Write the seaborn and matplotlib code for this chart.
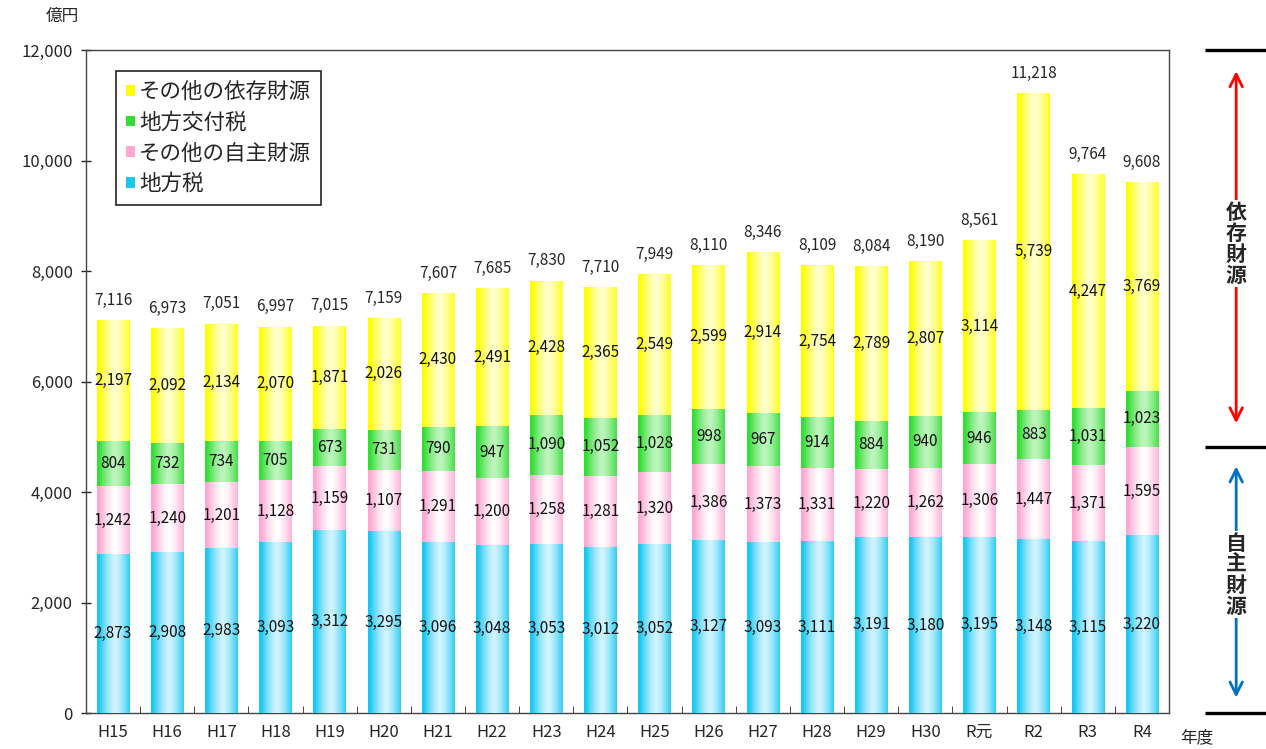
import matplotlib
matplotlib.use("Agg")
import matplotlib.pyplot as plt
import matplotlib.transforms as mtransforms
from matplotlib.patches import Patch
from matplotlib.ticker import FuncFormatter, MultipleLocator
import seaborn as sns
import pandas as pd
import numpy as np

# data (億円)
years = ['H15', 'H16', 'H17', 'H18', 'H19', 'H20', 'H21', 'H22', 'H23', 'H24',
         'H25', 'H26', 'H27', 'H28', 'H29', 'H30', 'R元', 'R2', 'R3', 'R4']
chihouzei = [2873, 2908, 2983, 3093, 3312, 3295, 3096, 3048, 3053, 3012,
             3052, 3127, 3093, 3111, 3191, 3180, 3195, 3148, 3115, 3220]
sonota_jishu = [1242, 1240, 1201, 1128, 1159, 1107, 1291, 1200, 1258, 1281,
                1320, 1386, 1373, 1331, 1220, 1262, 1306, 1447, 1371, 1595]
koufuzei = [804, 732, 734, 705, 673, 731, 790, 947, 1090, 1052,
            1028, 998, 967, 914, 884, 940, 946, 883, 1031, 1023]
sonota_izon = [2197, 2092, 2134, 2070, 1871, 2026, 2430, 2491, 2428, 2365,
               2549, 2599, 2914, 2754, 2789, 2807, 3114, 5739, 4247, 3769]
totals = [7116, 6973, 7051, 6997, 7015, 7159, 7607, 7685, 7830, 7710,
          7949, 8110, 8346, 8109, 8084, 8190, 8561, 11218, 9764, 9608]

series_names = ['地方税', 'その他の自主財源', '地方交付税', 'その他の依存財源']
series_vals = [chihouzei, sonota_jishu, koufuzei, sonota_izon]
# edge colour, centre (highlight) colour for the gradient bars
edge_cols = ['#19c8f0', '#ffa6d2', '#33dd33', '#ffff00']
mid_cols = ['#d2f4ff', '#ffffff', '#bff5bf', '#ffffd0']

df = pd.DataFrame({'年度': years})
for name, vals in zip(series_names, series_vals):
    df[name] = vals
cum = df[series_names].cumsum(axis=1)

sns.set_style("white")
plt.rcParams['font.family'] = ['Noto Sans CJK JP', 'DejaVu Sans']

fig = plt.figure(figsize=(12.66, 7.49), dpi=100)
ax = fig.add_axes([0.0679, 0.048, 0.8555, 0.885])

# stacked bars: draw cumulative heights from the top layer down
layer_patches = []
for i in reversed(range(len(series_names))):
    n_before = len(ax.patches)
    sns.barplot(x=df['年度'], y=cum[series_names[i]], color=edge_cols[i],
                width=0.6, ax=ax, order=years, linewidth=0)
    layer_patches.append((i, ax.patches[n_before:]))


def hex_rgb(h):
    h = h.lstrip('#')
    return np.array([int(h[k:k + 2], 16) for k in (0, 2, 4)]) / 255.0


t = np.linspace(0, 1, 64)
bump = np.clip(1 - np.abs((t - 0.55) / 0.5) ** 1.4, 0, 1)
for order, (i, patches) in enumerate(layer_patches):
    e, m = hex_rgb(edge_cols[i]), hex_rgb(mid_cols[i])
    grad = e[None, :] + (m - e)[None, :] * bump[:, None]
    img = grad[None, :, :]
    for p in patches:
        x0, y0 = p.get_x(), p.get_y()
        w, h = p.get_width(), p.get_height()
        p.set_zorder(2 + order)
        im = ax.imshow(img, extent=(x0, x0 + w, y0, y0 + h), aspect='auto',
                       zorder=2 + order, interpolation='bilinear')
        im.set_clip_path(p)

ax.set_xlim(-0.5, len(years) - 0.5)
ax.set_ylim(0, 12000)

# segment labels
for i, name in enumerate(series_names):
    bottoms = cum[name] - df[name]
    for x, (b, v) in enumerate(zip(bottoms, df[name])):
        ax.text(x, b + v / 2, f'{v:,}', ha='center', va='center',
                fontsize=11, color='#111111', zorder=10)
for x, tot in enumerate(totals):
    ax.annotate(f'{tot:,}', (x, tot), xytext=(0, 8), textcoords='offset points',
                ha='center', va='bottom', fontsize=11, zorder=10)

# axes styling
ax.yaxis.set_major_locator(MultipleLocator(2000))
ax.yaxis.set_major_formatter(FuncFormatter(lambda v, _: f'{int(v):,}'))
ax.tick_params(axis='y', direction='inout', length=7, width=1, labelsize=12,
               left=True, pad=6)
ax.set_xticks(range(len(years)))
ax.set_xticklabels(years)
ax.set_xticks(np.arange(0.5, len(years) - 0.5, 1), minor=True)
ax.tick_params(axis='x', which='major', length=0, labelsize=12, pad=8)
ax.tick_params(axis='x', which='minor', direction='in', length=5, bottom=True)
for s in ax.spines.values():
    s.set_color('#444444')
    s.set_linewidth(1)
ax.set_xlabel('')
ax.set_ylabel('')
fig.text(62 / 1266, 1 - 16 / 749, '億円', ha='center', va='center', fontsize=12)
fig.text(1197 / 1266, 1 - 738 / 749, '年度', ha='center', va='center', fontsize=12)

handles = [Patch(facecolor=edge_cols[i], edgecolor='none', label=series_names[i])
           for i in reversed(range(len(series_names)))]
leg = ax.legend(handles=handles, loc='upper left', bbox_to_anchor=(0.028, 0.968),
                borderaxespad=0, fontsize=15.5, handlelength=0.4, handleheight=0.4,
                handletextpad=0.2, labelspacing=0.4, fancybox=False,
                edgecolor='#222222', framealpha=1, borderpad=0.45)
leg.get_frame().set_linewidth(1.2)
leg.set_zorder(20)

# right side: 依存財源 / 自主財源 brackets
jishu_top = chihouzei[-1] + sonota_jishu[-1]
trans = mtransforms.blended_transform_factory(ax.transAxes, ax.transData)
for yv in (12000, jishu_top, 0):
    ax.plot([1.033, 1.095], [yv, yv], transform=trans, color='black', lw=2.4,
            clip_on=False, solid_capstyle='butt')
xa = 1.062
ax.annotate('', xy=(xa, 12000 - 330), xytext=(xa, jishu_top + 380),
            xycoords=trans, textcoords=trans,
            arrowprops=dict(arrowstyle='<->,head_length=0.9,head_width=0.45',
                            color='#ff0000', lw=2))
ax.annotate('', xy=(xa, jishu_top - 300), xytext=(xa, 230),
            xycoords=trans, textcoords=trans,
            arrowprops=dict(arrowstyle='<->,head_length=0.9,head_width=0.45',
                            color='#0070c0', lw=2))
ax.text(xa, 8500, '\n'.join('依存財源'), transform=trans, ha='center', va='center',
        fontsize=15, fontweight='bold', linespacing=1.0,
        bbox=dict(facecolor='white', edgecolor='none', pad=1))
ax.text(xa, 2500, '\n'.join('自主財源'), transform=trans, ha='center', va='center',
        fontsize=15, fontweight='bold', linespacing=1.0,
        bbox=dict(facecolor='white', edgecolor='none', pad=1))

fig.savefig('out.png', dpi=100)
